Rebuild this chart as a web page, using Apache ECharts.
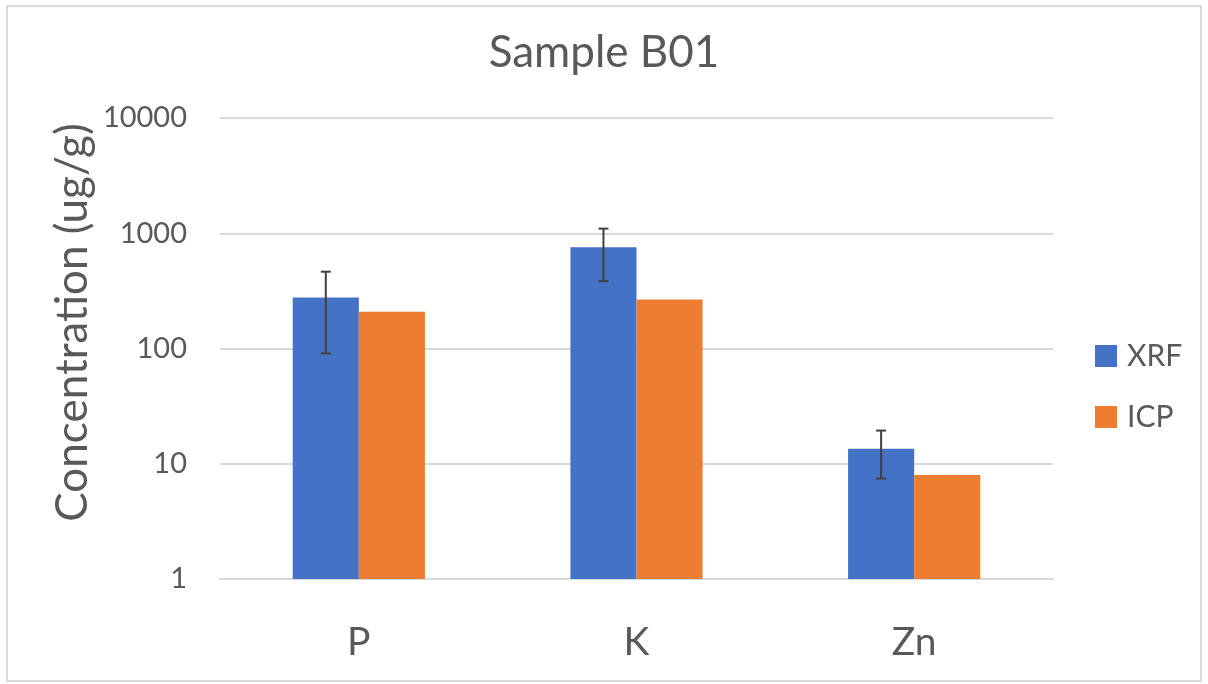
<!DOCTYPE html>
<html>
<head>
<meta charset="utf-8">
<script src="https://cdn.jsdelivr.net/npm/echarts@6/dist/echarts.min.js"></script>
<style>
html,body{margin:0;padding:0;background:#fff;}
#frame{position:absolute;left:6px;top:5px;width:1196px;height:677px;border:2px solid #d9d9d9;box-sizing:border-box;}
#chart{position:absolute;left:0;top:0;width:1208px;height:684px;}
</style>
</head>
<body>
<div id="frame"></div>
<div id="chart"></div>
<script>
const categories = ['P', 'K', 'Zn'];
const seriesNames = ['XRF', 'ICP'];
const xrfValues = [277, 757, 13.5];
const icpValues = [208, 266, 7.97];
const xrfErrLow = [90.6, 384, 7.43];
const xrfErrHigh = [464, 1097, 19.4];
const yTicks = [1, 10, 100, 1000, 10000];

const FONT = 'Lato, "Open Sans", sans-serif';
const TEXT = '#595959';
const BAR_W = 0.238;

const errData = categories.map((c, i) => [i, xrfErrLow[i], xrfErrHigh[i]]);

const chart = echarts.init(document.getElementById('chart'));
chart.setOption({
  animation: false,
  backgroundColor: 'transparent',
  color: ['#4472C4', '#ED7D31'],
  title: {
    text: 'Sample B01',
    left: 'center',
    top: 26,
    textStyle: {fontFamily: FONT, fontSize: 44, fontWeight: 'normal', color: TEXT}
  },
  legend: {
    orient: 'vertical',
    left: 1090,
    top: 336,
    itemWidth: 22,
    itemHeight: 22,
    itemGap: 31,
    icon: 'rect',
    data: seriesNames,
    textStyle: {fontFamily: FONT, fontSize: 30, color: TEXT, padding: [0, 0, 0, 5]}
  },
  grid: {left: 220, right: 155, top: 118, bottom: 105, containLabel: false},
  xAxis: {
    type: 'category',
    data: categories,
    axisLine: {lineStyle: {color: '#d9d9d9', width: 2}},
    axisTick: {show: false},
    axisLabel: {fontFamily: FONT, fontSize: 39, color: TEXT, margin: 44}
  },
  yAxis: {
    type: 'log',
    logBase: 10,
    min: yTicks[0],
    max: yTicks[yTicks.length - 1],
    name: 'Concentration (ug/g)',
    nameLocation: 'middle',
    nameGap: 125,
    nameMoveOverlap: false,
    nameTextStyle: {fontFamily: FONT, fontSize: 44, color: TEXT, padding: [0, 0, 0, 52]},
    axisLine: {show: false},
    axisTick: {show: false},
    splitLine: {lineStyle: {color: '#d9d9d9', width: 2}},
    axisLabel: {fontFamily: FONT, fontSize: 29, color: TEXT, margin: 33, formatter: v => String(v)}
  },
  series: [
    {name: 'XRF', type: 'bar', data: xrfValues, barWidth: (BAR_W * 100) + '%', barGap: '0%'},
    {name: 'ICP', type: 'bar', data: icpValues, barWidth: (BAR_W * 100) + '%', barGap: '0%'},
    {
      type: 'custom',
      name: 'err',
      z: 10,
      data: errData,
      encode: {x: 0, y: [1, 2]},
      renderItem: function (params, api) {
        const band = api.size([1, 0])[0];
        const xi = api.value(0);
        const lo = api.coord([xi, api.value(1)]);
        const hi = api.coord([xi, api.value(2)]);
        const x = lo[0] - band * BAR_W / 2;
        const cap = 5;
        const style = {stroke: '#404040', lineWidth: 2};
        return {
          type: 'group',
          children: [
            {type: 'line', shape: {x1: x, y1: lo[1], x2: x, y2: hi[1]}, style: style},
            {type: 'line', shape: {x1: x - cap, y1: lo[1], x2: x + cap, y2: lo[1]}, style: style},
            {type: 'line', shape: {x1: x - cap, y1: hi[1], x2: x + cap, y2: hi[1]}, style: style}
          ]
        };
      }
    }
  ]
});
</script>
</body>
</html>
